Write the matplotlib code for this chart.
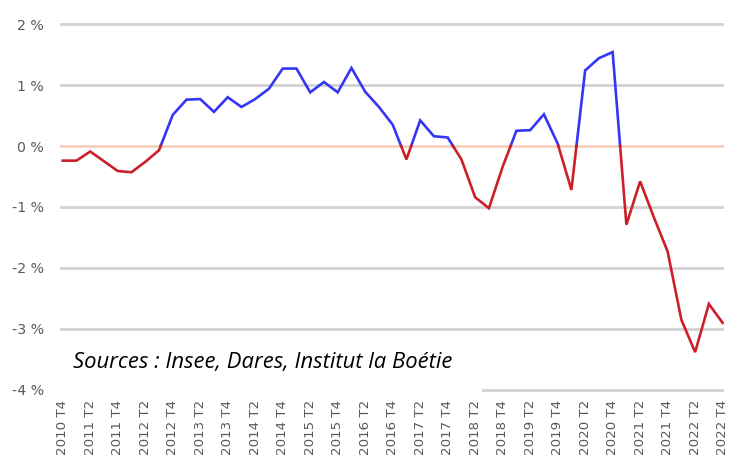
import matplotlib
matplotlib.use("Agg")
import matplotlib.pyplot as plt
import numpy as np
from matplotlib.patches import Rectangle

# quarterly series, 2010 T4 .. 2022 T4 (in %)
values = [-0.24, -0.24, -0.09, -0.25, -0.41, -0.43, -0.26, -0.07,
          0.51, 0.76, 0.77, 0.56, 0.80, 0.64, 0.77, 0.94,
          1.27, 1.27, 0.88, 1.05, 0.88, 1.28, 0.89, 0.64,
          0.35, -0.22, 0.42, 0.16, 0.14, -0.22, -0.84, -1.02,
          -0.34, 0.25, 0.26, 0.52, 0.04, -0.72, 1.24, 1.44,
          1.54, -1.29, -0.58, -1.17, -1.73, -2.85, -3.38, -2.59,
          -2.90]
tick_labels = ["2010 T4", "2011 T2", "2011 T4", "2012 T2", "2012 T4",
               "2013 T2", "2013 T4", "2014 T2", "2014 T4", "2015 T2",
               "2015 T4", "2016 T2", "2016 T4", "2017 T2", "2017 T4",
               "2018 T2", "2018 T4", "2019 T2", "2019 T4", "2020 T2",
               "2020 T4", "2021 T2", "2021 T4", "2022 T2", "2022 T4"]
y_ticks = [2, 1, 0, -1, -2, -3, -4]
source = "Sources : Insee, Dares, Institut la Boétie"

BLUE = "#3535F5"
RED = "#CC2029"
GRID = "#D2D2D2"
ZERO = "#F6CBBA"
LABEL = "#595959"


def split_at_zero(v):
    """Insert the zero crossings so each sign gets its own colour."""
    xs, ys = [], []
    for i in range(len(v) - 1):
        xs.append(i); ys.append(v[i])
        if v[i] * v[i + 1] < 0:
            t = v[i] / (v[i] - v[i + 1])
            xs.append(i + t); ys.append(0.0)
    xs.append(len(v) - 1); ys.append(v[-1])
    return np.array(xs), np.array(ys)


fig = plt.figure(figsize=(7.3, 4.57), dpi=100)
ax = fig.add_axes([60 / 730, 1 - 393 / 457, 664 / 730, 372 / 457])

for y in y_ticks:
    if y == 0:
        continue
    ax.axhline(y, color=GRID, lw=2.0, zorder=1)
ax.axhline(0, color=ZERO, lw=1.8, zorder=1)

xs, ys = split_at_zero(values)
ax.plot(xs, np.where(ys >= 0, ys, np.nan), color=BLUE, lw=1.9, zorder=3,
        solid_joinstyle="miter")
ax.plot(xs, np.where(ys <= 0, ys, np.nan), color=RED, lw=1.9, zorder=3,
        solid_joinstyle="miter")

# white box behind the source note hides the left part of the -4 % line
ax.add_patch(Rectangle((-0.5, -4.08), 31.0, 0.75, facecolor="white",
                       edgecolor="none", zorder=2, clip_on=False))
ax.text(0.75, -3.64, source, fontsize=15.8, style="italic", family="Open Sans",
        color="black", va="baseline", ha="left", zorder=4)

ax.set_xlim(-0.2, 48.1)
ax.set_ylim(-4.05, 2.05)
ax.set_yticks(y_ticks)
ax.set_yticklabels([f"{y} %" for y in y_ticks])
ax.set_xticks(range(0, len(values), 2))
ax.set_xticklabels(tick_labels, rotation=90)
ax.tick_params(axis="both", length=0, colors=LABEL)
ax.tick_params(axis="y", pad=11.5, labelsize=10.2)
ax.tick_params(axis="x", pad=5, labelsize=9.6)
for s in ax.spines.values():
    s.set_visible(False)

fig.savefig("out.png", dpi=100)
